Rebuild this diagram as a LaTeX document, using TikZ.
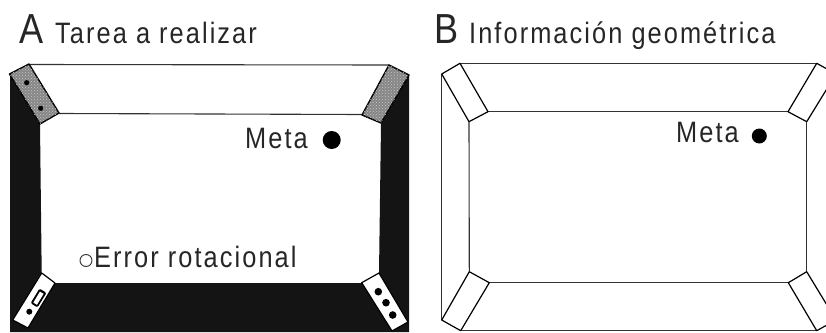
\documentclass[tikz,border=0pt]{standalone}
\usepackage{fontspec}
\setmainfont{Liberation Sans}
\newfontfamily\labfont[FakeStretch=0.86,LetterSpace=7]{Liberation Sans}
\newfontfamily\bigfont[FakeStretch=0.86]{Liberation Sans}
\usetikzlibrary{patterns}
\begin{document}
\begin{tikzpicture}[x=1pt,y=-1pt,
  outline/.style={draw=black!80, line width=1.1pt},
  piece/.style={fill=white, draw=black, line width=1.2pt, line join=round},
  gpiece/.style={fill=gray!95, draw=black, line width=1.4pt, line join=round,
    postaction={pattern=crosshatch dots, pattern color=gray!45}},
  lbl/.style={font=\labfont\fontsize{29.5}{29.5}\selectfont, text=black!85, inner sep=0pt, anchor=base west},
  biglbl/.style={font=\bigfont\fontsize{42}{42}\selectfont, text=black!85, inner sep=0pt, anchor=base west},
  blackband/.style={fill=black!92}]
\useasboundingbox (0,0) rectangle (826,332);
\clip (0,0) rectangle (826,332);

% ---------- Panel A ----------
\fill[blackband] (10,74) -- (40,124) -- (41.7,273) -- (55,283) -- (362,283) -- (379,273)
  -- (381,123) -- (409,75) -- (409,332) -- (10,332) -- cycle;
\draw[outline] (29,64.5) -- (389,65);
\draw[outline] (59,113.5) -- (362,114.5);

% top-left patterned piece
\draw[gpiece] (9.5,74) -- (29,64) -- (59,113) -- (40,124) -- cycle;
\fill[black] (26.7,82.7) circle (2.6);
\fill[black] (40.7,108.3) circle (2.6);
% top-right patterned piece
\draw[gpiece] (389,65) -- (409,75) -- (381,123) -- (362,115) -- cycle;
% bottom-left piece
\draw[piece] (41.7,273) -- (55,283) -- (28,328) -- (12.7,320) -- cycle;
\draw[black, line width=1.2pt, rounded corners=1pt, fill=black]
  (37.3,306.6) -- (31.4,303.0) -- (39.7,289.4) -- (45.7,293.0) -- cycle;
\fill[white] (37.0,304.8) -- (33.3,302.6) -- (39.9,291.6) -- (43.6,293.8) -- cycle;
\fill[black] (29.3,311.7) circle (3);
% bottom-right piece
\draw[piece] (361.7,282.7) -- (379,273) -- (408,322) -- (392,331) -- cycle;
\fill[black] (378.3,291.7) circle (3.8);
\fill[black] (386,302.7) circle (3.8);
\fill[black] (392.7,315) circle (3.8);

% labels A
\node[biglbl] (tA) at (19,43) {A};
\node[lbl] (tAtxt) at (55,43) {Tarea a realizar};
\node[lbl] (metaA) at (245,148) {Meta};
\node[circle, fill=black, inner sep=0pt, minimum size=18pt] (goalA) at (331.7,140) {};
\node[circle, draw=black!80, line width=0.9pt, inner sep=0pt, minimum size=12pt] (errA) at (86,260.5) {};
\node[lbl] (errtxt) at (94,267) {Error rotacional};

% ---------- Panel B ----------
\draw[outline] (441.7,74) -- (441.7,320);
\draw[outline] (460,63.3) -- (816.7,63.3);
\draw[outline] (460.7,330.7) -- (816.7,330.7);
\draw[outline] (488,111.7) -- (788,111.7);
\draw[outline] (469,121.7) -- (469.3,271.7);
\draw[outline] (489.3,282.7) -- (788.3,282.7);
\draw[outline] (806.7,121.7) -- (806.7,271.7);

\draw[piece] (441.7,74) -- (460,63.3) -- (488,111.7) -- (469,121.7) -- cycle;
\draw[piece] (816.7,63.3) -- (836,74) -- (806.7,121.7) -- (788,111.7) -- cycle;
\draw[piece] (469.3,271.7) -- (489.3,282.7) -- (460.7,330.7) -- (441.7,320) -- cycle;
\draw[piece] (806.7,271.7) -- (788.3,282.7) -- (816.7,330.7) -- (836,320) -- cycle;

\node[biglbl] (tB) at (434,43) {B};
\node[lbl] (tBtxt) at (469,43) {Información geométrica};
\node[lbl] (metaB) at (676,142) {Meta};
\node[circle, fill=black, inner sep=0pt, minimum size=15pt] (goalB) at (759.3,136) {};
\end{tikzpicture}
\end{document}
